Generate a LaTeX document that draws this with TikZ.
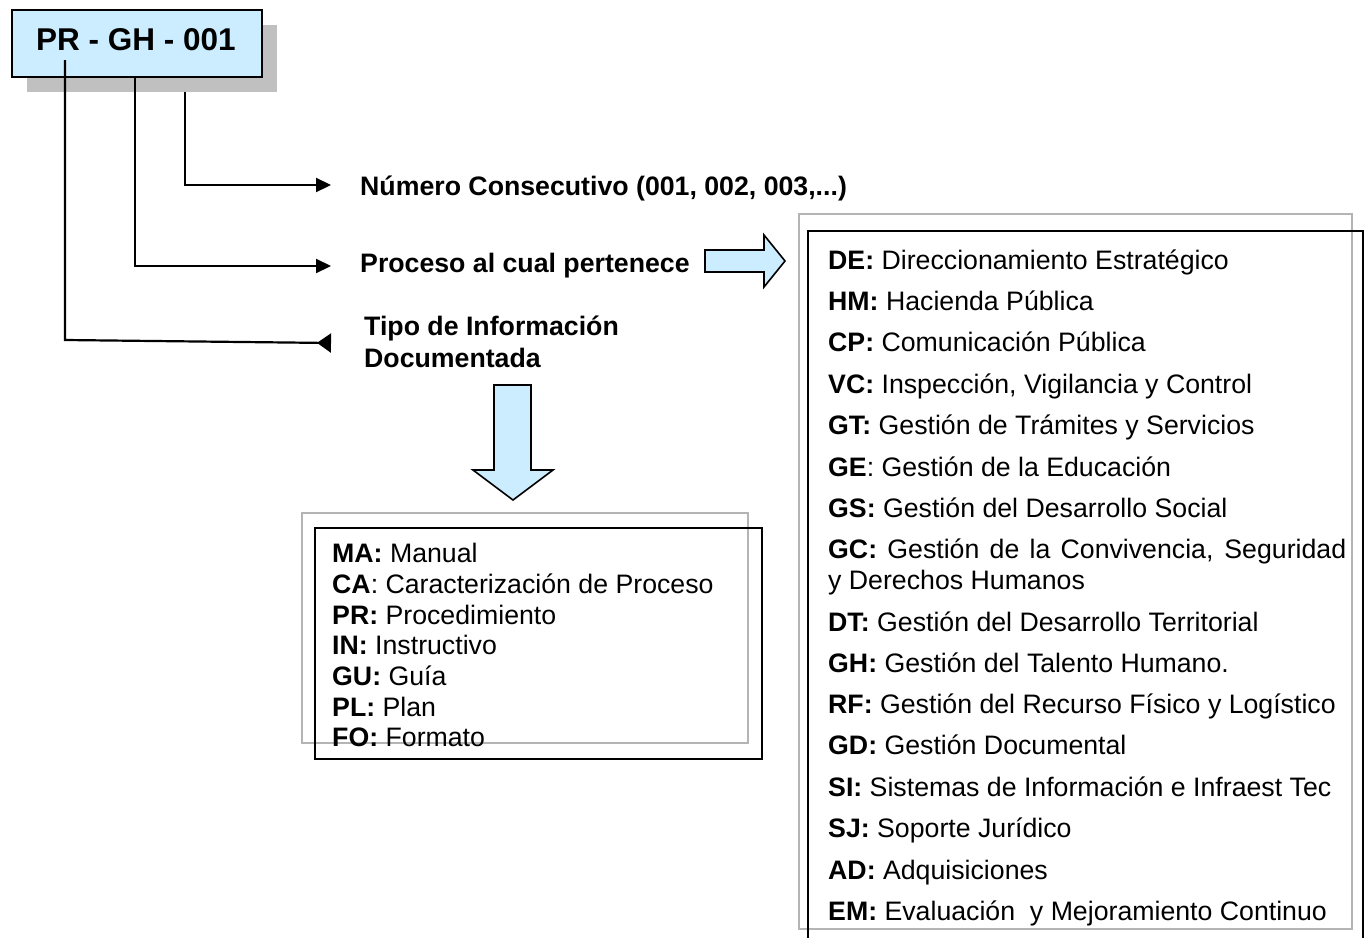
\documentclass[tikz,border=0pt]{standalone}
\usepackage{fontspec}
\setmainfont{Liberation Sans}
\usetikzlibrary{arrows.meta}
\definecolor{lightblue}{HTML}{CCECFF}
\definecolor{shadowgray}{HTML}{C0C0C0}
\definecolor{framegray}{HTML}{B4B4B4}
\begin{document}
\begin{tikzpicture}[x=1pt,y=-1pt,
  txt/.style={inner sep=0pt, anchor=base west, font=\fontsize{26.7}{30}\selectfont},
  hd/.style={txt, font=\fontsize{26.7}{30}\selectfont\bfseries},
  conn/.style={line width=2.2pt, draw=black},
  tipR/.style={-{Triangle[length=15pt,width=14pt]}},
  tipL/.style={-{Triangle[reversed,length=14pt,width=19pt]}},
  block/.style={draw=black, line width=1.6pt, fill=lightblue, line join=miter},
  grayframe/.style={draw=framegray, line width=2pt},
  blackframe/.style={draw=black, line width=1.8pt}]
\useasboundingbox (0,0) rectangle (1365,937);

% code box with shadow
\fill[shadowgray] (27,25) rectangle (277,92);
\node[draw=black, line width=1.8pt, fill=lightblue, minimum width=250pt, minimum height=67pt,
      inner sep=0pt, anchor=north west] (code) at (11,9) {};
\node[inner sep=0pt, anchor=base, font=\fontsize{31.5}{34}\selectfont\bfseries] (codetxt) at (136,50) {PR - GH - 001};

% connectors
\coordinate (t1) at (65,60);
\coordinate (t2) at (135,76);
\coordinate (t3) at (185,92);
\coordinate (b1) at (65,340);
\coordinate (h1) at (331,343);
\coordinate (h2) at (331,266);
\coordinate (h3) at (331,185);
\draw[conn, tipR] (t3) |- (h3);
\draw[conn, tipR] (t2) |- (h2);
\draw[conn, tipL] (t1) -- (b1) -- (h1);

% labels
\node[hd] (numtxt) at (360,195.5) {Número Consecutivo (001, 002, 003,...)};
\node[hd] (proctxt) at (360,272.5) {Proceso al cual pertenece};
\node[hd] (tipo1) at (364,335.5) {Tipo de Información};
\node[hd] (tipo2) at (364,367.5) {Documentada};

% block arrows
\draw[block] (705,250) -- (764,250) -- (764,235) -- (785,261) -- (764,287) -- (764,272) -- (705,272) -- cycle;
\draw[block] (494,385) -- (531,385) -- (531,470) -- (553,470) -- (513,500) -- (473,470) -- (494,470) -- cycle;

% document types box
\draw[grayframe] (302,513) rectangle (748,743);
\draw[blackframe] (315,528) rectangle (762,759);
\node[txt] (ma) at (332,562.5) {\textbf{MA:} Manual};
\node[txt] (ca) at (332,593.3) {\textbf{CA}: Caracterización de Proceso};
\node[txt] (pr) at (332,624) {\textbf{PR:} Procedimiento};
\node[txt] (in) at (332,654.7) {\textbf{IN:} Instructivo};
\node[txt] (gu) at (332,685.4) {\textbf{GU:} Guía};
\node[txt] (pl) at (332,716.1) {\textbf{PL:} Plan};
\node[txt] (fo) at (332,746.8) {\textbf{FO:} Formato};

% process box
\draw[grayframe] (799,214) rectangle (1352,929);
\draw[blackframe] (808,940) -- (808,231) -- (1363,231) -- (1363,940);
\node[txt] (de) at (828,269.5) {\textbf{DE:} Direccionamiento Estratégico};
\node[txt] (hm) at (828,310.5) {\textbf{HM:} Hacienda Pública};
\node[txt] (cp) at (828,351.5) {\textbf{CP:} Comunicación Pública};
\node[txt] (vc) at (828,393) {\textbf{VC:} Inspección, Vigilancia y Control};
\node[txt] (gt) at (828,434.5) {\textbf{GT:} Gestión de Trámites y Servicios};
\node[txt] (ge) at (828,476) {\textbf{GE}: Gestión de la Educación};
\node[txt] (gs) at (828,517) {\textbf{GS:} Gestión del Desarrollo Social};
\node[txt] (gc) at (828,558.5) {\makebox[518pt][s]{\textbf{GC:} Gestión de la Convivencia, Seguridad}};
\node[txt] (gc2) at (828,589.5) {y Derechos Humanos};
\node[txt] (dt) at (828,631) {\textbf{DT:} Gestión del Desarrollo Territorial};
\node[txt] (gh) at (828,672) {\textbf{GH:} Gestión del Talento Humano.};
\node[txt] (rf) at (828,713.5) {\textbf{RF:} Gestión del Recurso Físico y Logístico};
\node[txt] (gd) at (828,754.5) {\textbf{GD:} Gestión Documental};
\node[txt] (si) at (828,796) {\textbf{SI:} Sistemas de Información e Infraest Tec};
\node[txt] (sj) at (828,837) {\textbf{SJ:} Soporte Jurídico};
\node[txt] (ad) at (828,879) {\textbf{AD:} Adquisiciones};
\node[txt] (em) at (828,920) {\textbf{EM:} Evaluación\ \ y Mejoramiento Continuo};
\end{tikzpicture}
\end{document}
